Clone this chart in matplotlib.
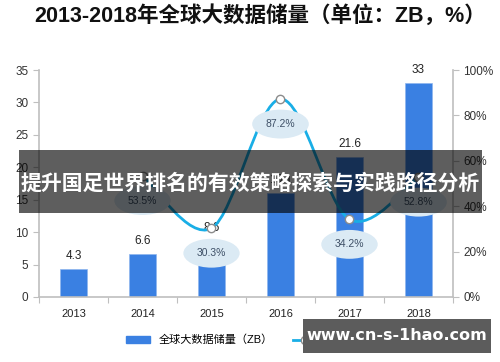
import matplotlib.pyplot as plt
from matplotlib.path import Path
from matplotlib.patches import PathPatch, Rectangle, Patch
from matplotlib.lines import Line2D
from matplotlib.ticker import PercentFormatter

plt.rcParams['font.family'] = ['Liberation Sans', 'Noto Sans CJK SC', 'DejaVu Sans']

years = ['2013', '2014', '2015', '2016', '2017', '2018']
storage = [4.3, 6.6, 8.6, 16.1, 21.6, 33]
growth_years = ['2014', '2015', '2016', '2017', '2018']
growth = [0.535, 0.303, 0.872, 0.342, 0.528]

bar_color = '#3a80e2'
line_color = '#19aee6'
grey = '#bfbfbf'

fig = plt.figure(figsize=(5, 3.62), dpi=100)
ax = fig.add_axes([0.078, 0.1796, 0.828, 0.627])
x = list(range(len(years)))
ax.bar(x, storage, width=0.39, color=bar_color, edgecolor='#8fb6ee', linewidth=0.5)
for xi, v in zip(x, storage):
    ax.annotate(f'{v:g}', (xi, v), xytext=(0, 5), textcoords='offset points',
                ha='center', va='bottom', fontsize=8.5, color='#222222')

ax.set_xlim(-0.5, 5.5)
ax.set_ylim(0, 35)
ax.set_yticks(range(0, 36, 5))
ax.set_xticks([i - 0.5 for i in range(len(years) + 1)])
ax.set_xticklabels([])
ax.set_xticks(x, minor=True)
ax.set_xticklabels(years, minor=True)
ax.tick_params(axis='x', which='major', length=4, color=grey)
ax.tick_params(axis='x', which='minor', length=0, pad=9, labelsize=8, labelcolor='#222222')
ax.tick_params(axis='y', length=4, color=grey, labelsize=8.5, labelcolor='#333333')
for s in ['top', 'right']:
    ax.spines[s].set_visible(False)
for s in ['left', 'bottom']:
    ax.spines[s].set_color(grey)
    ax.spines[s].set_linewidth(1.2)

ax2 = ax.twinx()
ax2.set_ylim(0, 1)
ax2.set_yticks([0, 0.2, 0.4, 0.6, 0.8, 1.0])
ax2.yaxis.set_major_formatter(PercentFormatter(1.0, decimals=0))
ax2.tick_params(axis='y', length=4, color=grey, labelsize=8.5, labelcolor='#333333')
for s in ['top', 'left', 'bottom']:
    ax2.spines[s].set_visible(False)
ax2.spines['right'].set_color(grey)
ax2.spines['right'].set_linewidth(1.2)

# smooth curve through growth points (Catmull-Rom as cubic Bezier)
gx = [years.index(y) for y in growth_years]
pts = list(zip(gx, growth))
verts = [pts[0]]
codes = [Path.MOVETO]
for i in range(len(pts) - 1):
    p0 = pts[max(i - 1, 0)]
    p1 = pts[i]
    p2 = pts[i + 1]
    p3 = pts[min(i + 2, len(pts) - 1)]
    c1 = (p1[0] + (p2[0] - p0[0]) / 6, p1[1] + (p2[1] - p0[1]) / 6)
    c2 = (p2[0] - (p3[0] - p1[0]) / 6, p2[1] - (p3[1] - p1[1]) / 6)
    verts += [c1, c2, p2]
    codes += [Path.CURVE4] * 3
ax2.add_patch(PathPatch(Path(verts, codes), fc='none', ec=line_color, lw=2))
ax2.plot(gx, growth, ls='none', marker='o', ms=6, mfc='white', mec='#8c8c8c', mew=1)
for xi, v in zip(gx, growth):
    ax2.annotate(f'{v * 100:.1f}%', (xi, v), xytext=(0, -18), textcoords='offset points',
                 ha='center', va='center', fontsize=7.5, color='#3d4f66',
                 bbox=dict(boxstyle='ellipse,pad=0.5', fc='#dbeaf4', ec='none'))

fig.text(0.52, 0.955, '2013-2018年全球大数据储量（单位：ZB，%）', ha='center', va='center',
         fontsize=15.5, fontweight='bold', color='#111111')

handles = [Patch(color=bar_color),
           Line2D([], [], color=line_color, lw=2, marker='o', ms=6, mfc='white', mec='#8c8c8c')]
fig.legend(handles, ['全球大数据储量（ZB）', '同比增长率（%）'], loc='center',
           bbox_to_anchor=(0.54, 0.061), ncol=2, frameon=False, fontsize=8,
           handlelength=2.2, handleheight=0.6, columnspacing=1.8)

# overlay banner and watermark
fig.patches.append(Rectangle((0.038, 0.412), 0.926, 0.174, transform=fig.transFigure,
                             fc='black', alpha=0.63, ec='none', zorder=10))
fig.text(0.5, 0.4945, '提升国足世界排名的有效策略探索与实践路径分析', ha='center', va='center',
         fontsize=15, fontweight='bold', color='white', family=['Noto Sans CJK SC'], zorder=11)
fig.patches.append(Rectangle((0.606, 0.0249), 0.376, 0.094, transform=fig.transFigure,
                             fc='#5c5c5c', ec='none', zorder=10))
fig.text(0.794, 0.072, 'www.cn-s-1hao.com', ha='center', va='center', fontsize=11.5,
         fontweight='bold', color='white', family=['DejaVu Sans'], zorder=11)

fig.savefig('out.png', dpi=100)
